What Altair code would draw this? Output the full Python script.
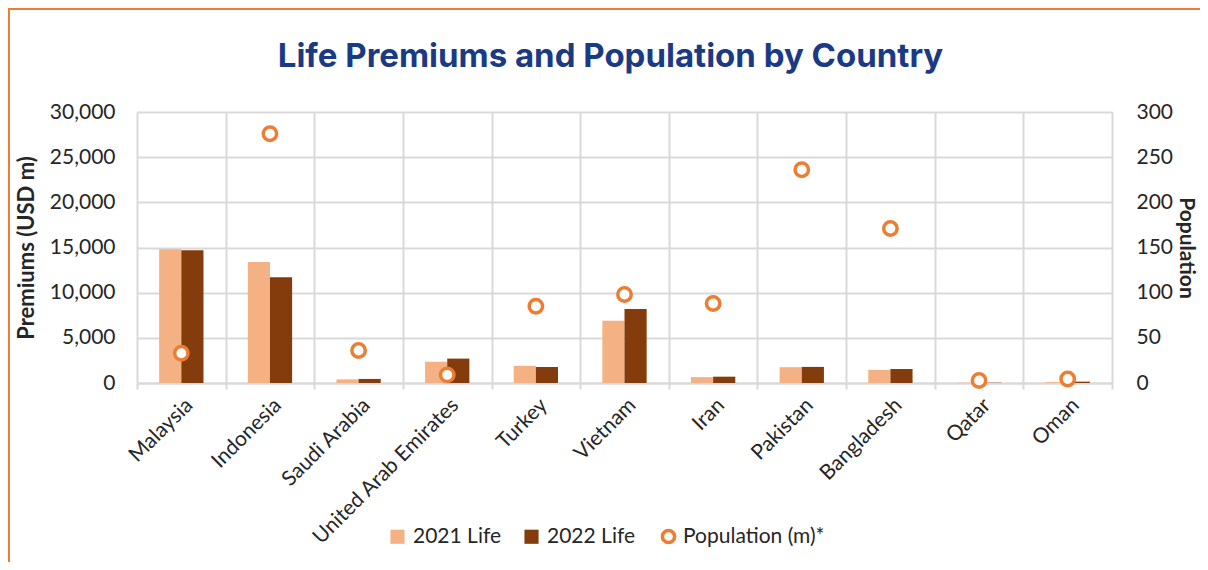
import altair as alt
import pandas as pd

countries = ["Malaysia", "Indonesia", "Saudi Arabia", "United Arab Emirates", "Turkey",
             "Vietnam", "Iran", "Pakistan", "Bangladesh", "Qatar", "Oman"]
life_2021 = [14800, 13400, 400, 2350, 1900, 6900, 650, 1750, 1450, 30, 90]
life_2022 = [14700, 11700, 450, 2700, 1770, 8200, 700, 1780, 1550, 30, 150]
population = [33, 276, 36, 9, 85, 98, 88, 236, 171, 2.7, 4.5]

bar_series = ["2021 Life", "2022 Life"]
bar_colors = ["#F4B183", "#843C0C"]
pop_name = "Population (m)*"
pop_color = "#ED7D31"

rows = []
for c, a, b in zip(countries, life_2021, life_2022):
    rows.append({"country": c, "series": bar_series[0], "value": a})
    rows.append({"country": c, "series": bar_series[1], "value": b})
bar_df = pd.DataFrame(rows)
pop_df = pd.DataFrame({"country": countries, "series": pop_name, "population": population})

FONT = "Lato"
GRID = "#D9D9D9"
TXT = "#262626"

x_axis = alt.Axis(title=None, labelAngle=-45, labelFont=FONT, labelFontSize=21, labelColor=TXT,
                  labelLimit=400,
                  tickBand="extent", ticks=True, tickSize=6, tickColor=GRID, tickWidth=2,
                  domainColor=GRID, domainWidth=2, grid=True, gridColor=GRID, gridWidth=2,
                  labelPadding=5)
x_enc = alt.X("country:N", sort=countries, scale=alt.Scale(paddingInner=0, paddingOuter=0), axis=x_axis)

frame = alt.Chart(alt.Data(values=[{"a": 1}])).mark_rect(
    filled=False, stroke="#ED7D31", strokeWidth=2
).encode(x=alt.value(-128), x2=alt.value(1200), y=alt.value(-103), y2=alt.value(500))

bars = alt.Chart(bar_df).mark_bar().encode(
    x=x_enc,
    xOffset=alt.XOffset("series:N", sort=bar_series,
                        scale=alt.Scale(paddingInner=0, paddingOuter=1)),
    y=alt.Y("value:Q", scale=alt.Scale(domain=[0, 30000]),
            axis=alt.Axis(title="Premiums (USD m)", values=list(range(0, 30001, 5000)), format=",.0f",
                          grid=True, gridColor=GRID, gridWidth=2, ticks=False, domain=False,
                          labelFont=FONT, labelFontSize=21, labelColor=TXT, labelPadding=22,
                          titleFont=FONT, titleFontSize=22, titleFontWeight="bold", titleColor=TXT,
                          titlePadding=11)),
    color=alt.Color("series:N", scale=alt.Scale(domain=bar_series, range=bar_colors),
                    legend=alt.Legend(orient="none", legendX=250, legendY=414, direction="horizontal",
                                      title=None, labelFont=FONT, labelFontSize=21, labelColor=TXT,
                                      symbolType="square", symbolSize=200, symbolStrokeWidth=0,
                                      columnPadding=19, labelOffset=5)),
)

points = alt.Chart(pop_df).mark_point(filled=False, fill="white", strokeWidth=3.5, size=180, opacity=1).encode(
    x=x_enc,
    y=alt.Y("population:Q", scale=alt.Scale(domain=[0, 300]),
            axis=alt.Axis(orient="right", title="Population", values=list(range(0, 301, 50)),
                          grid=False, ticks=False, domain=False,
                          labelFont=FONT, labelFontSize=21, labelColor=TXT, labelPadding=24,
                          titleFont=FONT, titleFontSize=21, titleFontWeight="bold", titleColor=TXT,
                          titlePadding=3)),
    stroke=alt.Stroke("series:N", scale=alt.Scale(domain=[pop_name], range=[pop_color]),
                      legend=alt.Legend(orient="none", legendX=521, legendY=414, direction="horizontal",
                                        title=None, labelFont=FONT, labelFontSize=21, labelColor=TXT,
                                        symbolType="circle", symbolSize=150, symbolStrokeWidth=3.5,
                                        symbolFillColor="white", labelOffset=4)),
)

chart = alt.layer(frame, bars, points).resolve_scale(y="independent").properties(
    width=975, height=271,
    title=alt.Title("Life Premiums and Population by Country", font="Inter", fontSize=33,
                    fontWeight="bold", color="#1B3A84", anchor="middle", offset=-66, dx=-14),
    autosize=alt.AutoSizeParams(type="none"),
    padding={"left": 129, "top": 104, "right": 88, "bottom": 179},
).configure_view(
    fill="#EFEFEF", stroke=GRID, strokeWidth=2
).configure(background="white")

chart.save("out.html", embed_options={"renderer": "svg", "actions": False})
